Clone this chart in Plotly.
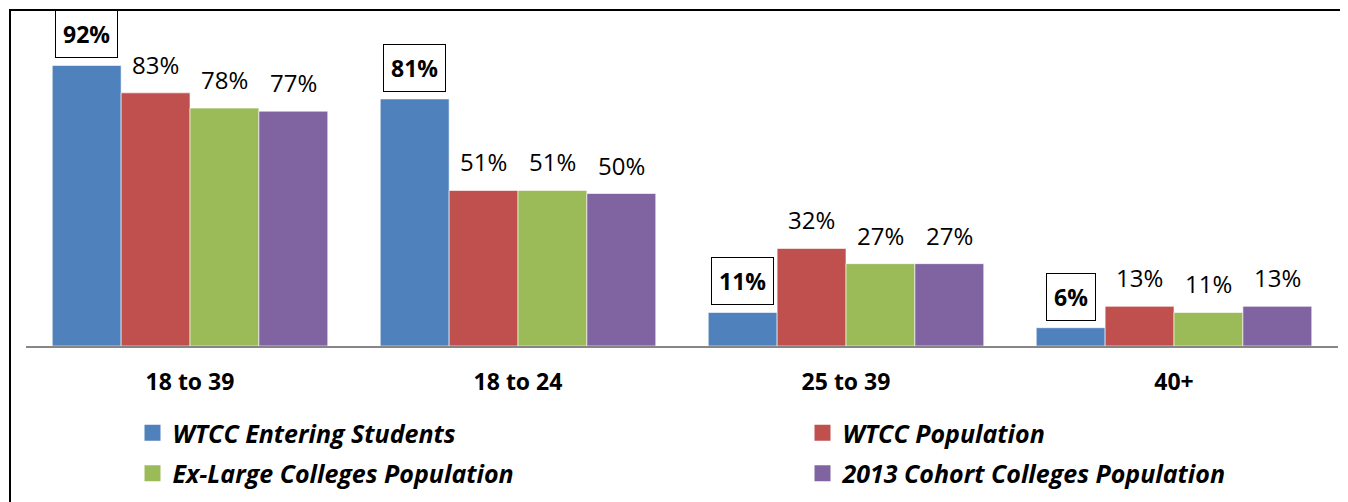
import plotly.graph_objects as go

# age groups and the share of each population in them
categories = ['18 to 39', '18 to 24', '25 to 39', '40+']
series_names = ['WTCC Entering Students', 'WTCC Population',
                'Ex-Large Colleges Population', '2013 Cohort Colleges Population']
entering = [92, 81, 11, 6]
wtcc_pop = [83, 51, 32, 13]
exlarge_pop = [78, 51, 27, 11]
cohort_pop = [77, 50, 27, 13]

colors = ['#4F81BD', '#C0504D', '#9BBB59', '#8064A2']
font = 'Open Sans'
bargap = 0.16

# page has an 8px body margin, so figure pixel = screen pixel - 8
OFF = 8
L, R, T, B = 26 - OFF, 1338 - OFF, 41 - OFF, 346 - OFF
def px_x(p):
    return (p - OFF - L) / (R - L)
def px_y(p):
    return (B - (p - OFF)) / (B - T)

fig = go.Figure()
all_series = [entering, wtcc_pop, exlarge_pop, cohort_pop]
bar_w = (1 - bargap) / 4
for i, (name, vals) in enumerate(zip(series_names, all_series)):
    fig.add_trace(go.Bar(
        x=categories, y=vals, name=name, showlegend=False,
        marker=dict(color=colors[i], line=dict(color='rgba(255,255,255,0.6)', width=1)),
    ))
    # legend entries with larger square swatches, split into two columns
    fig.add_trace(go.Scatter(
        x=[None], y=[None], mode='markers', name=name,
        marker=dict(symbol='square', size=17, color=colors[i]),
        legend='legend' if i % 2 == 0 else 'legend2', legendgroup=name,
    ))
    off = -(1 - bargap) / 2 + bar_w * (i + 0.5)
    for k, v in enumerate(vals):
        if i == 0:
            fig.add_annotation(
                x=k + off, y=v, text=f'<b>{v}%</b>', showarrow=False,
                yanchor='bottom', yshift=7,
                font=dict(family=font, size=23, color='black'),
                bordercolor='black', borderwidth=1, borderpad=7, bgcolor='white',
            )
        else:
            fig.add_annotation(
                x=k + off, y=v, text=f'{v}%', showarrow=False,
                yanchor='bottom', yshift=10,
                font=dict(family=font, size=24, color='black'),
            )

# outer frame (left and top edges visible, the rest runs off the page)
fig.add_shape(type='rect', xref='paper', yref='paper',
              x0=px_x(10), x1=px_x(1400), y0=px_y(600), y1=px_y(10),
              line=dict(color='black', width=2))

legend_font = dict(family=font, size=25, color='black', weight='bold', style='italic')
fig.update_layout(
    width=1348, height=502,
    margin=dict(l=L, r=1348 - R, t=T, b=502 - B, autoexpand=False),
    paper_bgcolor='white', plot_bgcolor='white',
    barmode='group', bargap=bargap, bargroupgap=0,
    font=dict(family=font, color='black'),
    showlegend=True,
    legend=dict(x=px_x(132.5), y=px_y(410), xanchor='left', yanchor='top',
                font=legend_font, tracegroupgap=5, itemsizing='trace',
                bgcolor='rgba(0,0,0,0)'),
    legend2=dict(x=px_x(802.5), y=px_y(410), xanchor='left', yanchor='top',
                 font=legend_font, tracegroupgap=5, itemsizing='trace',
                 bgcolor='rgba(0,0,0,0)'),
)
fig.update_xaxes(showline=True, linecolor='#868686', linewidth=2, ticks='',
                 tickfont=dict(family=font, size=23, color='black', weight='bold'),
                 ticklabelstandoff=14)
fig.update_yaxes(range=[0, 100], visible=False, showgrid=False)

fig.write_html('out.html')
